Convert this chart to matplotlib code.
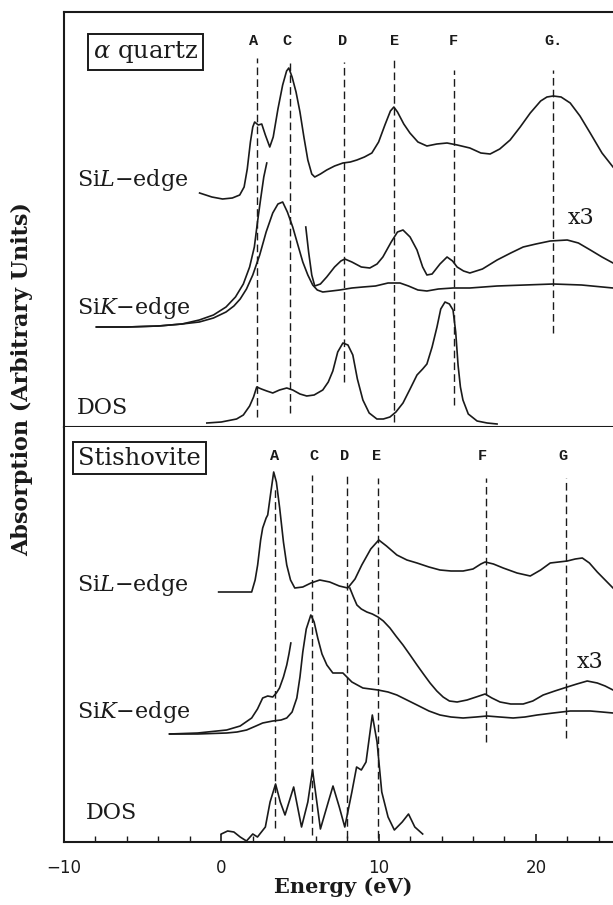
import matplotlib
matplotlib.use("Agg")
import matplotlib.pyplot as plt
from matplotlib.ticker import MultipleLocator

plt.rcParams['mathtext.fontset'] = 'dejavuserif'
serif = 'DejaVu Serif'
ink = '#1a1a1a'

# ---------------- alpha quartz (top panel) ----------------
q_sil_e = [-1.38, -0.6, 0.08, 0.7, 1.17, 1.45, 1.65, 1.85, 2.0, 2.12, 2.35, 2.57, 2.8, 3.08, 3.3, 3.6, 3.9,
           4.15, 4.29, 4.5, 4.75, 5.0, 5.25, 5.5, 5.75, 5.94, 6.3, 6.7, 7.2, 7.73, 8.2, 8.62, 9.1, 9.57, 10.0,
           10.4, 10.75, 10.97, 11.2, 11.6, 11.99, 12.5, 13.07, 13.7, 14.35, 15.0, 15.8, 16.5, 17.09, 17.7,
           18.36, 19.0, 19.64, 20.3, 20.7, 21.1, 21.6, 22.18, 22.8, 23.45, 24.2, 24.9]
q_sil_y = [234, 230, 228, 229, 232, 240, 258, 285, 300, 305, 302, 303, 292, 280, 290, 318, 342,
           356, 359, 350, 335, 315, 290, 267, 253, 250, 253, 257, 261, 264, 265, 267, 270, 274, 285,
           302, 316, 320, 315, 303, 294, 285, 281, 283, 284, 282, 279, 274, 273, 278,
           287, 300, 314, 326, 330, 331, 330, 324, 311, 294, 274, 260]

q_sik_e = [-7.94, -6, -4, -2.5, -1.4, -0.5, 0.3, 0.8, 1.2, 1.6, 2.0, 2.44, 2.85, 3.27, 3.6, 3.9, 4.2,
           4.54, 4.85, 5.18, 5.5, 5.81, 6.1, 6.45, 7.0, 7.53, 8.3, 9.0, 9.8, 10.6, 11.36, 11.9, 12.5,
           13.07, 13.8, 14.73, 15.8, 17.53, 19.3, 21.1, 22.9, 24.9]
q_sik_y = [100, 100, 101, 103, 105, 109, 115, 121, 128, 138, 152, 172, 195, 214, 223, 225, 215,
           200, 183, 165, 152, 142, 137, 135, 136, 137, 139, 140, 141, 144, 144, 141, 137,
           136, 138, 139, 139, 141, 142, 143, 142, 139]

q_x3a_e = [-7.94, -6, -4, -2.5, -1.4, -0.5, 0.3, 0.9, 1.4, 1.8, 2.1, 2.3, 2.5, 2.7, 2.89]
q_x3a_y = [100, 100, 101, 103, 107, 112, 120, 130, 143, 160, 180, 205, 228, 250, 264]

q_x3b_e = [5.37, 5.55, 5.75, 5.94, 6.3, 6.7, 7.2, 7.6, 7.85, 8.3, 8.9, 9.44, 9.9, 10.27, 10.8, 11.2,
           11.55, 12.0, 12.44, 12.8, 13.07, 13.4, 13.9, 14.35, 14.7, 14.99, 15.4, 15.8, 16.6, 17.53,
           18.4, 19.19, 20.0, 20.91, 21.99, 22.7, 23.46, 24.2, 24.9]
q_x3b_y = [200, 175, 152, 141, 143, 150, 160, 166, 168, 165, 160, 159, 163, 170, 185, 195,
           197, 190, 177, 160, 152, 153, 163, 170, 166, 160, 156, 154, 158, 167,
           174, 180, 183, 186, 187, 184, 177, 170, 164]

q_dos_e = [-0.92, 0.0, 0.97, 1.4, 1.8, 2.05, 2.25, 2.55, 2.89, 3.27, 3.7, 4.16, 4.54, 5.0, 5.43, 5.9,
           6.45, 6.8, 7.09, 7.4, 7.73, 8.05, 8.36, 8.65, 9.0, 9.4, 9.89, 10.3, 10.72, 11.1, 11.55, 12.0,
           12.44, 12.8, 13.07, 13.4, 13.71, 13.95, 14.22, 14.5, 14.73, 14.9, 15.05, 15.2, 15.36, 15.7,
           16.26, 16.9, 17.53]
q_dos_y = [4, 5, 8, 12, 21, 30, 40, 38, 36, 34, 37, 39, 37, 33, 31, 32,
           37, 45, 56, 75, 84, 82, 72, 48, 27, 14, 8, 8, 10, 15, 24, 38,
           52, 58, 63, 80, 100, 118, 125, 123, 117, 95, 62, 40, 27, 13,
           6, 4, 3]

q_lines = [2.3, 4.36, 7.79, 10.97, 14.79, 21.1]
q_line_top = [369, 367, 365, 367, 357, 357]
q_line_bot = [10, 14, 45, 5, 22, 94]
q_names = ['A', 'C', 'D', 'E', 'F', 'G.']
q_name_e = [2.07, 4.16, 7.73, 11.03, 14.73, 21.1]

# ---------------- stishovite (bottom panel) ----------------
s_sil_e = [-0.17, 1.0, 1.93, 2.15, 2.31, 2.5, 2.63, 2.85, 2.95, 3.15, 3.33, 3.5, 3.71, 3.95, 4.16, 4.4,
           4.67, 5.18, 5.7, 6.26, 6.89, 7.5, 8.04, 8.5, 8.93, 9.5, 10.01, 10.5, 11.16, 11.8, 12.44,
           13.2, 13.9, 14.6, 15.37, 16.0, 16.5, 16.77, 17.3, 17.92, 18.8, 19.64, 20.3, 20.91, 21.99,
           22.5, 22.95, 23.4, 23.9, 24.4, 24.9]
s_sil_y = [250, 250, 250, 262, 277, 302, 314, 324, 327, 350, 370, 360, 334, 300, 277, 262,
           254, 255, 259, 262, 260, 256, 254, 263, 277, 293, 302, 296, 287, 282, 279,
           275, 272, 271, 271, 273, 278, 280, 278, 274, 269, 266, 272, 279, 281,
           283, 284, 279, 270, 262, 254]

s_sik_e = [-3.29, -1.5, 0.34, 1.0, 1.61, 2.2, 2.63, 3.27, 3.8, 4.16, 4.5, 4.8, 5.0, 5.18, 5.4, 5.69,
           5.9, 6.13, 6.4, 6.71, 7.09, 7.73, 8.3, 9.0, 9.96, 10.6, 11.16, 11.8, 12.44, 13.2, 13.9,
           14.6, 15.37, 16.2, 16.9, 17.7, 18.55, 19.3, 20.08, 21.1, 22.18, 23.46, 24.2, 24.9]
s_sik_y = [108, 108, 109, 110, 112, 116, 119, 121, 122, 124, 130, 144, 165, 190, 213, 227,
           220, 204, 188, 177, 169, 169, 160, 154, 152, 150, 147, 142, 137, 131, 127,
           125, 124, 125, 126, 125, 124, 125, 127, 129, 131, 131, 130, 129]

s_x3a_e = [-3.29, -1.5, 0.34, 1.2, 1.93, 2.3, 2.63, 2.95, 3.27, 3.5, 3.7, 3.95, 4.16, 4.3, 4.42]
s_x3a_y = [108, 109, 112, 116, 124, 133, 144, 146, 145, 149, 154, 165, 177, 188, 199]

s_x3b_e = [8.17, 8.4, 8.62, 8.9, 9.25, 9.6, 9.96, 10.3, 10.72, 11.1, 11.55, 12.0, 12.44, 12.85, 13.27,
           13.7, 14.1, 14.5, 14.99, 15.62, 16.2, 16.77, 17.2, 17.72, 18.4, 19.19, 19.8, 20.46, 21.2,
           21.99, 22.6, 23.26, 23.9, 24.4, 24.9]
s_x3b_y = [254, 245, 237, 233, 230, 228, 225, 221, 214, 206, 197, 187, 177, 168, 159,
           151, 145, 141, 140, 142, 145, 148, 144, 140, 138, 138, 141, 147, 151,
           155, 158, 161, 159, 156, 152]

s_dos_e = [0.0, 0.4, 0.8, 1.2, 1.6, 2.0, 2.3, 2.8, 3.1, 3.45, 3.75, 4.05, 4.6, 5.1, 5.5, 5.8, 6.3, 6.8,
           7.1, 7.5, 7.85, 8.3, 8.6, 8.9, 9.2, 9.6, 9.9, 10.2, 10.6, 11.0, 11.5, 11.9, 12.3, 12.8]
s_dos_y = [8, 11, 10, 5, 1, 8, 5, 15, 40, 58, 40, 27, 55, 15, 40, 72, 13, 40,
           56, 35, 15, 50, 75, 72, 80, 127, 100, 50, 25, 12, 20, 28, 15, 8]

s_lines = [3.4, 5.75, 7.97, 9.96, 16.83, 21.93]
s_line_top = [354, 367, 369, 364, 364, 364]
s_line_bot = [14, 7, 4, 4, 100, 104]
s_names = ['A', 'C', 'D', 'E', 'F', 'G']
s_name_e = [3.4, 5.9, 7.85, 9.9, 16.6, 21.7]

fig = plt.figure(figsize=(6.13, 9.05), dpi=100)
W, H = 613.0, 905.0
ax1 = fig.add_axes([64 / W, 1 - 427 / H, 1 - 64 / W, (427 - 12) / H])
ax2 = fig.add_axes([64 / W, 1 - 842 / H, 1 - 64 / W, (842 - 427) / H])

curve_kw = dict(color=ink, lw=1.2, solid_joinstyle='round')
dash_kw = dict(color=ink, lw=1.0, dashes=(5.5, 3.0))


def panel(ax, curves, lines, tops, bots, names, name_e, box, box_e, box_y, labels, x3):
    for e, y in curves:
        ax.plot(e, y, **curve_kw)
    for e, t, b in zip(lines, tops, bots):
        ax.plot([e, e], [b, t], **dash_kw)
    for n, e in zip(names, name_e):
        ax.text(e, 386, n, ha='center', va='center', fontsize=11,
                family='Liberation Mono', weight='bold', color=ink)
    ax.text(box_e, box_y, box, ha='center', va='center', fontsize=17.5, family=serif, color=ink,
            bbox=dict(boxstyle='square,pad=0.2', fc='white', ec=ink, lw=1.4))
    for txt, e, y in labels:
        ax.text(e, y, txt, ha='left', va='center', fontsize=16, family=serif, color=ink)
    ax.text(x3[0], x3[1], 'x3', ha='left', va='center', fontsize=16, family=serif, color=ink)
    ax.set_xlim(-10, 24.9)
    ax.set_ylim(0, 415)
    ax.set_yticks([])
    ax.spines['right'].set_visible(False)
    for s in ['left', 'top', 'bottom']:
        ax.spines[s].set_linewidth(1.5)
        ax.spines[s].set_color(ink)


panel(ax1,
      [(q_sil_e, q_sil_y), (q_sik_e, q_sik_y), (q_x3a_e, q_x3a_y), (q_x3b_e, q_x3b_y), (q_dos_e, q_dos_y)],
      q_lines, q_line_top, q_line_bot, q_names, q_name_e,
      r'$\alpha$ quartz', -4.8, 375,
      [(r'Si$L$' + '\u2212edge', -9.2, 247), (r'Si$K$' + '\u2212edge', -9.2, 119), ('DOS', -9.2, 19)],
      (22.0, 209))
ax1.set_xticks([])

panel(ax2,
      [(s_sil_e, s_sil_y), (s_sik_e, s_sik_y), (s_x3a_e, s_x3a_y), (s_x3b_e, s_x3b_y), (s_dos_e, s_dos_y)],
      s_lines, s_line_top, s_line_bot, s_names, s_name_e,
      'Stishovite', -5.2, 384,
      [(r'Si$L$' + '\u2212edge', -9.2, 257), (r'Si$K$' + '\u2212edge', -9.2, 130), ('DOS', -8.6, 29)],
      (22.6, 180))
ax2.spines['top'].set_visible(False)
ax2.set_xticks([-10, 0, 10, 20])
ax2.set_xticklabels(['\u221210', '0', '10', '20'], family='DejaVu Sans', fontsize=12, color=ink)
ax2.xaxis.set_minor_locator(MultipleLocator(2))
ax2.tick_params(axis='x', which='major', direction='in', length=6, width=1.2, pad=12, colors=ink)
ax2.tick_params(axis='x', which='minor', direction='in', length=4, width=1.0, colors=ink)

fig.text(343 / W, 1 - 887 / H, 'Energy (eV)', ha='center', va='center', fontsize=15,
         family=serif, weight='bold', color=ink)
fig.text(22 / W, 1 - 379 / H, 'Absorption (Arbitrary Units)', ha='center', va='center',
         rotation=90, fontsize=16, family=serif, weight='bold', color=ink)

fig.savefig('out.png', dpi=100)
